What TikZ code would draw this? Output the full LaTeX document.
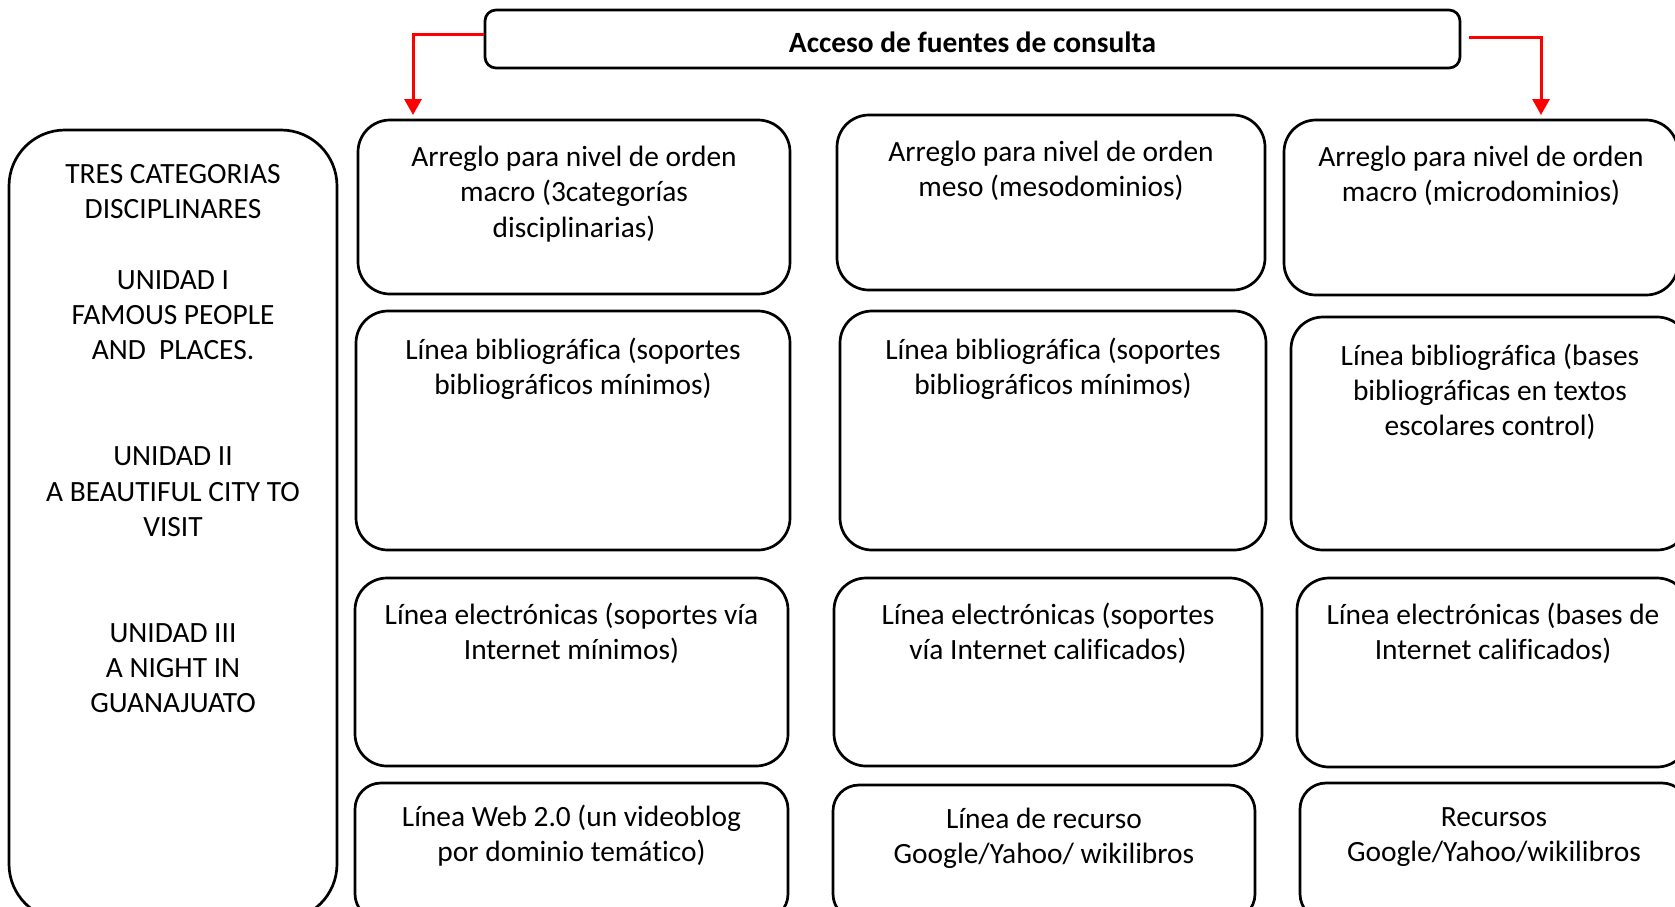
\documentclass[tikz,border=0pt]{standalone}
\usepackage{fontspec}
\setmainfont{Carlito}[Ligatures=NoCommon]
\usetikzlibrary{arrows.meta}
\begin{document}
\begin{tikzpicture}[x=1pt,y=-1pt,
  rbox/.style={draw=black, line width=2.7pt, rounded corners=32pt, inner sep=0pt},
  dbox/.style={rbox, rounded corners=26pt},
  txt/.style={anchor=north, align=center, inner sep=0pt, font=\fontsize{29.4pt}{35.3pt}\selectfont},
  redarrow/.style={draw=red, line width=3pt, -{Triangle[width=17pt,length=16pt]}}]
\useasboundingbox (0,0) rectangle (1675,906);
\clip (0,0) rectangle (1675,906);

% top box
\node[rbox, rounded corners=11pt, minimum width=975pt, minimum height=58pt] (top) at (972.5,39) {};
\node[inner sep=0pt, font=\fontsize{29.4pt}{35.3pt}\selectfont\bfseries] at ([yshift=-3pt]top.center) {Acceso de fuentes de consulta};

% left tall box
\node[rbox, rounded corners=56pt, minimum width=328pt, minimum height=790pt] (left) at (173,525) {};
\node[txt] at (173,158.5) {\strut TRES CATEGORIAS\\DISCIPLINARES\\~\\UNIDAD I\\FAMOUS PEOPLE\\AND~~PLACES.\\~\\~\\UNIDAD II\\A BEAUTIFUL CITY TO\\VISIT\\~\\~\\UNIDAD III\\A NIGHT IN\\GUANAJUATO};

% column 1
\node[rbox, minimum width=432pt, minimum height=174pt] (a1) at (574,207) {};
\node[txt] at ([yshift=-23pt]a1.north) {\strut Arreglo para nivel de orden\\macro (3categorías\\disciplinarias)};
\node[rbox, minimum width=434pt, minimum height=239pt] (b1) at (573,430.5) {};
\node[txt] at ([yshift=-24.5pt]b1.north) {\strut Línea bibliográfica (soportes\\bibliográficos mínimos)};
\node[rbox, minimum width=433pt, minimum height=188pt] (c1) at (571.5,672) {};
\node[txt] at ([yshift=-22.5pt]c1.north) {\strut Línea electrónicas (soportes vía\\Internet mínimos)};
\node[dbox, minimum width=433pt, minimum height=137pt] (d1) at (571.5,851.5) {};
\node[txt] at ([yshift=-19.5pt]d1.north) {\strut Línea Web 2.0 (un videoblog\\por dominio temático)};

% column 2
\node[rbox, minimum width=428pt, minimum height=175pt] (a2) at (1051,202.5) {};
\node[txt] at ([yshift=-23pt]a2.north) {\strut Arreglo para nivel de orden\\meso (mesodominios)};
\node[rbox, minimum width=426pt, minimum height=239pt] (b2) at (1053,430.5) {};
\node[txt] at ([yshift=-24.5pt]b2.north) {\strut Línea bibliográfica (soportes\\bibliográficos mínimos)};
\node[rbox, minimum width=428pt, minimum height=188pt] (c2) at (1048,672) {};
\node[txt] at ([yshift=-22.5pt]c2.north) {\strut Línea electrónicas (soportes\\vía Internet calificados)};
\node[dbox, minimum width=422pt, minimum height=135pt] (d2) at (1044,852.5) {};
\node[txt] at ([yshift=-19.5pt]d2.north) {\strut Línea de recurso\\Google/Yahoo/ wikilibros};

% column 3
\node[rbox, minimum width=394pt, minimum height=175pt] (a3) at (1481,207.5) {};
\node[txt] at ([yshift=-23pt]a3.north) {\strut Arreglo para nivel de orden\\macro (microdominios)};
\node[rbox, minimum width=398pt, minimum height=233pt] (b3) at (1490,433.5) {};
\node[txt] at ([yshift=-24.5pt]b3.north) {\strut Línea bibliográfica (bases\\bibliográficas en textos\\escolares control)};
\node[rbox, minimum width=392pt, minimum height=189pt] (c3) at (1493,672.5) {};
\node[txt] at ([yshift=-22.5pt]c3.north) {\strut Línea electrónicas (bases de\\Internet calificados)};
\node[dbox, minimum width=388pt, minimum height=137pt] (d3) at (1494,851.5) {};
\node[txt] at ([yshift=-19.5pt]d3.north) {\strut Recursos\\Google/Yahoo/wikilibros};

% red connectors
\coordinate (la) at (413,115);
\coordinate (ra) at (1541,115);
\draw[redarrow] ([yshift=5pt]top.west) -| (la);
\draw[redarrow] ([xshift=8pt,yshift=2pt]top.east) -| (ra);
\end{tikzpicture}
\end{document}
